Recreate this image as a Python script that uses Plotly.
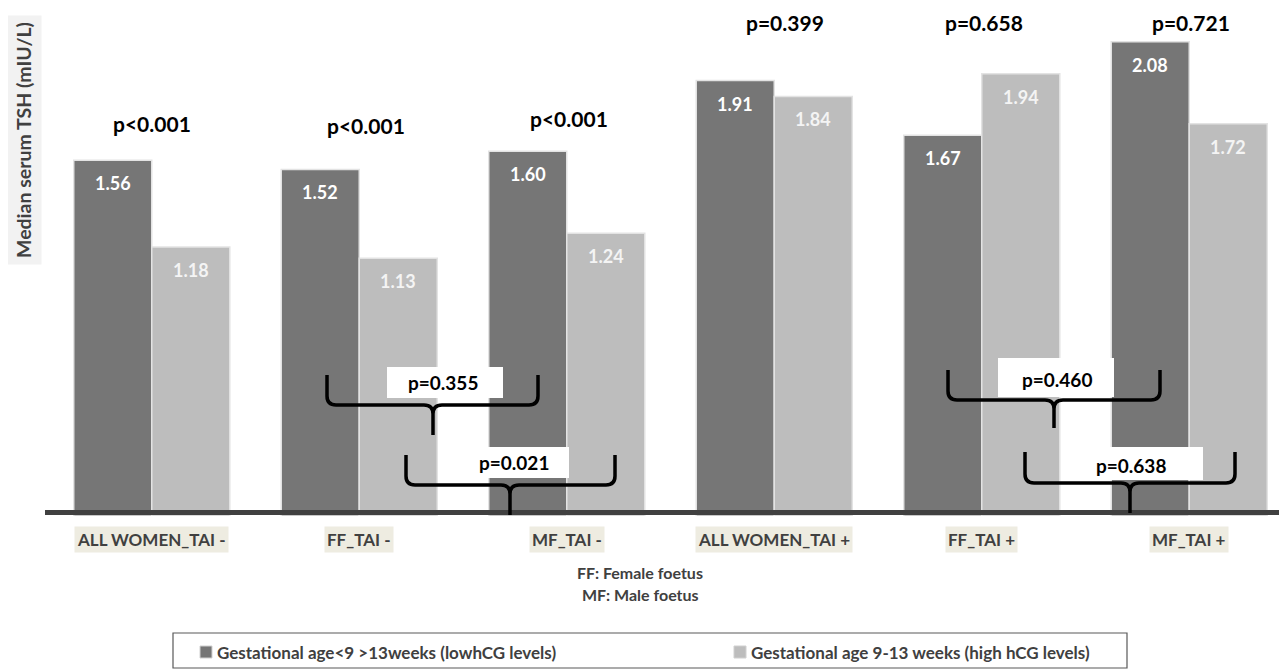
import plotly.graph_objects as go

# ---------------- data ----------------
categories = ["ALL WOMEN_TAI -", "FF_TAI -", "MF_TAI -",
              "ALL WOMEN_TAI +", "FF_TAI +", "MF_TAI +"]
low_hcg = [1.56, 1.52, 1.60, 1.91, 1.67, 2.08]
high_hcg = [1.18, 1.13, 1.24, 1.84, 1.94, 1.72]
series_names = ["Gestational age<9 >13weeks (lowhCG levels)",
                "Gestational age 9-13 weeks (high hCG levels)"]
group_pvalues = ["p<0.001", "p<0.001", "p<0.001", "p=0.399", "p=0.658", "p=0.721"]
bracket_pvalues = ["p=0.355", "p=0.021", "p=0.460", "p=0.638"]
y_title = "Median serum TSH (mIU/L)"
footnotes = ["FF: Female foetus", "MF: Male foetus"]

# ---------------- geometry ----------------
# the page body has an 8px margin, so the figure is drawn 8px smaller and
# all positions below are expressed in page pixels.
OFF = 8
PAGE_W, PAGE_H = 1287, 670
W, H = PAGE_W - OFF, PAGE_H - OFF
PLOT_L, PLOT_T, BASE = 48, 10, 516          # page pixels
ML, MR = PLOT_L - OFF, 0
MT, MB = PLOT_T - OFF, PAGE_H - BASE
PW, PH = W - ML - MR, H - MT - MB
CAT_PX = 207.5
UNIT_PX = 228.0

def fx(px):
    return (px - PLOT_L) / PW

def fy(py):
    return (BASE - py) / PH

DARK = "#767676"
LIGHT = "#bdbdbd"
TXT = "#404040"
FONT = "Lato"

fig = go.Figure()
fig.add_trace(go.Bar(x=categories, y=low_hcg, name=series_names[0],
                     marker=dict(color=DARK, line=dict(color="#e3e3e3", width=1.5))))
fig.add_trace(go.Bar(x=categories, y=high_hcg, name=series_names[1],
                     marker=dict(color=LIGHT, line=dict(color="#e3e3e3", width=1.5))))

ann = []
shapes = []

# value labels inside bars
for c, v in zip(categories, low_hcg):
    ann.append(dict(x=c, y=v, xref="x", yref="y", text=f"{v:.2f}", showarrow=False,
                    xshift=-39, yshift=-23, font=dict(family=FONT, size=18, color="white", weight=700)))
for c, v in zip(categories, high_hcg):
    ann.append(dict(x=c, y=v, xref="x", yref="y", text=f"{v:.2f}", showarrow=False,
                    xshift=39, yshift=-23, font=dict(family=FONT, size=18, color="#f4f4f4", weight=700)))

# group p-values above bars
pv_pos = [(152, 123), (366, 125), (569, 119), (785, 23), (984, 23), (1191, 23)]
for t, (px, py) in zip(group_pvalues, pv_pos):
    ann.append(dict(x=fx(px), y=fy(py), xref="paper", yref="paper", text=t, showarrow=False,
                    xanchor="center", yanchor="middle", borderpad=0,
                    font=dict(family=FONT, size=21, color="black", weight=700)))

# x category labels with beige highlight
for c in categories:
    ann.append(dict(x=c, y=fy(539), xref="x", yref="paper", text=c, showarrow=False,
                    xanchor="center", yanchor="middle", bgcolor="#eeece1", borderpad=2,
                    font=dict(family=FONT, size=17, color=TXT, weight=700)))

# footnotes
for t, py in zip(footnotes, [572, 594]):
    ann.append(dict(x=fx(640), y=fy(py), xref="paper", yref="paper", text=t, showarrow=False,
                    xanchor="center", yanchor="middle",
                    font=dict(family=FONT, size=16, color=TXT, weight=700)))

# y title
ann.append(dict(x=fx(24), y=fy(140), xref="paper", yref="paper", text=y_title, showarrow=False,
                textangle=-90, xanchor="center", yanchor="middle", bgcolor="#f2f2f2", borderpad=6,
                font=dict(family=FONT, size=19.5, color=TXT, weight=700)))

# axis baseline
shapes.append(dict(type="line", xref="paper", yref="paper", x0=fx(45), x1=fx(1290),
                   y0=fy(512.5), y1=fy(512.5), line=dict(color=TXT, width=5), layer="above"))

# brackets (L, R, top, horizontal, stem x, stem bottom) and label boxes
brackets = [
    (327, 538, 375, 405, 433, 435, (387, 503, 367, 398), (443, 382)),
    (406, 615, 455, 485, 510, 515, (470, 569, 447, 478), (514, 462)),
    (948, 1160, 370, 400, 1054, 428, (998, 1114, 358, 397), (1057, 379)),
    (1025, 1235, 452, 483, 1130, 513, (1068, 1203, 447, 480), (1131, 465)),
]
r = 9
for (L, R, top, hz, S, bot, box, tpos), label in zip(brackets, bracket_pvalues):
    bx0, bx1, by0, by1 = box
    shapes.append(dict(type="rect", xref="paper", yref="paper",
                       x0=fx(bx0), x1=fx(bx1), y0=fy(by1), y1=fy(by0),
                       fillcolor="white", line=dict(width=0), layer="above"))
    P = lambda x, y: f"{fx(x):.5f},{fy(y):.5f}"
    path = (f"M {P(L, top)} L {P(L, hz - r)} Q {P(L, hz)} {P(L + r, hz)} "
            f"L {P(S - r, hz)} Q {P(S, hz)} {P(S, hz + r)} L {P(S, bot)} "
            f"M {P(S, hz + r)} Q {P(S, hz)} {P(S + r, hz)} "
            f"L {P(R - r, hz)} Q {P(R, hz)} {P(R, hz - r)} L {P(R, top)}")
    shapes.append(dict(type="path", xref="paper", yref="paper", path=path,
                       line=dict(color="black", width=3.5), layer="above"))
    ann.append(dict(x=fx(tpos[0]), y=fy(tpos[1]), xref="paper", yref="paper", text=label,
                    showarrow=False, xanchor="center", yanchor="middle",
                    font=dict(family=FONT, size=19, color="black", weight=700)))

# legend box drawn manually
shapes.append(dict(type="rect", xref="paper", yref="paper", x0=fx(173), x1=fx(1127),
                   y0=fy(668), y1=fy(633), line=dict(color="#595959", width=1.2),
                   fillcolor="rgba(0,0,0,0)", layer="above"))
leg_items = [(200, DARK, series_names[0]), (734, LIGHT, series_names[1])]
for sx, col, name in leg_items:
    shapes.append(dict(type="rect", xref="paper", yref="paper", x0=fx(sx), x1=fx(sx + 12),
                       y0=fy(658), y1=fy(646), fillcolor=col, line=dict(color="#d0d0d0", width=1),
                       layer="above"))
    ann.append(dict(x=fx(sx + 15), y=fy(652), xref="paper", yref="paper", text=name,
                    showarrow=False, xanchor="left", yanchor="middle",
                    font=dict(family=FONT, size=17, color=TXT, weight=700)))

fig.update_layout(
    width=W, height=H,
    margin=dict(l=ML, r=MR, t=MT, b=MB, pad=0),
    paper_bgcolor="white", plot_bgcolor="white",
    barmode="group", bargap=0.248, bargroupgap=0.0,
    showlegend=False,
    xaxis=dict(type="category", range=[-0.5, -0.5 + PW / CAT_PX], showticklabels=False,
               showgrid=False, zeroline=False, showline=False, ticks=""),
    yaxis=dict(range=[0, PH / UNIT_PX], showticklabels=False, showgrid=False,
               zeroline=False, showline=False, ticks=""),
    annotations=ann, shapes=shapes,
)

fig.write_html("out.html")
